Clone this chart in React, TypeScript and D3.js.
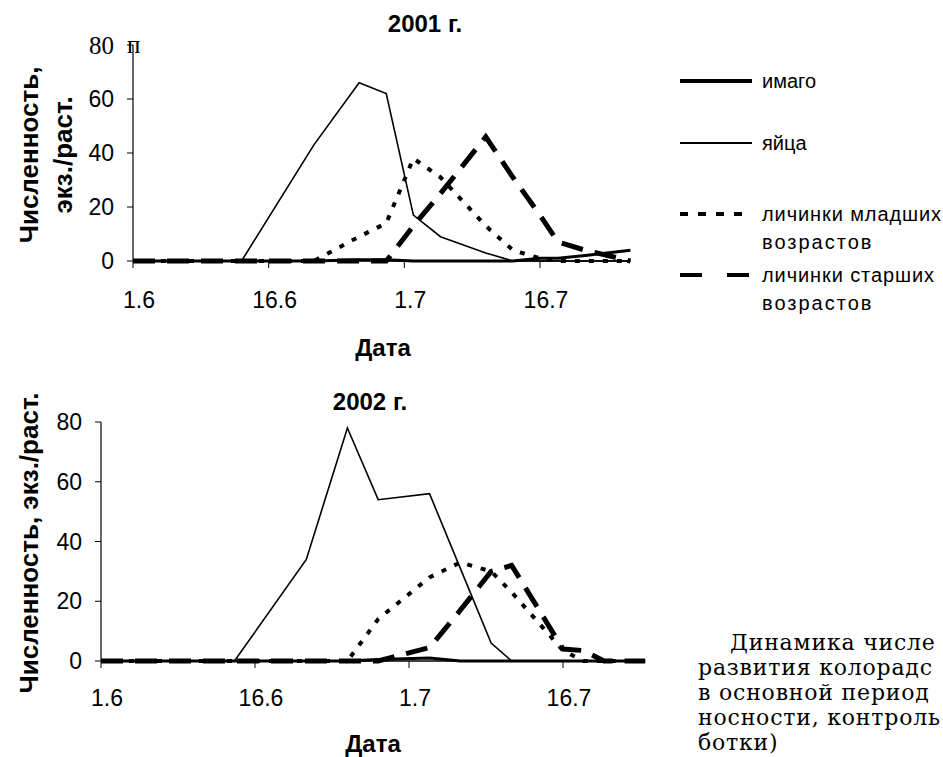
import React from 'react';
import * as d3 from 'd3';

// sampling dates (day.month) and counts, экз./раст.
const dates2001 = ['1.6', '13.6', '21.6', '26.6', '29.6', '2.7', '5.7', '10.7', '13.7', '16.7', '18.7', '21.7', '26.7'];
const imago2001 = [0, 0, 0, 0.5, 0.5, 0, 0, 0, 0, 1, 1, 2, 4];
const eggs2001 = [0, 0, 43, 66, 62, 17, 9, 3, 0, 0, 0, 0, 0];
const young2001 = [0, 0, 0, 9, 14, 38, 31, 13, 4, 1, 0, 0, 0];
const older2001 = [0, 0, 0, 0, 0, 13, 25, 46, 31, 17, 7, 4, 0];

const dates2002 = ['1.6', '14.6', '21.6', '25.6', '28.6', '3.7', '6.7', '9.7', '11.7', '16.7', '18.7', '20.7', '24.7'];
const imago2002 = [0, 0, 0, 0, 0.5, 1, 0, 0, 0, 0, 0, 0, 0];
const eggs2002 = [0, 0, 34, 78, 54, 56, 31, 6, 0, 0, 0, 0, 0];
const young2002 = [0, 0, 0, 0, 14, 28, 33, 30, 23, 3.5, 0, 0, 0];
const older2002 = [0, 0, 0, 0, 0, 4.5, 17, 30, 32, 4, 3.5, 0, 0];

const xTickLabels = ['1.6', '16.6', '1.7', '16.7'];
const yTickValues = [0, 20, 40, 60, 80];

const legendNames = ['имаго', 'яйца', 'личинки младших', 'личинки старших'];

const toDate = (s: string) => {
  const [d, m] = s.split('.').map(Number);
  return new Date(2001, m - 1, d);
};

const sans = 'Liberation Sans, Arial, sans-serif';

const styles = [
  { w: 3, dash: undefined },        // имаго
  { w: 1.6, dash: undefined },      // яйца
  { w: 4, dash: '5 9' },            // личинки младших
  { w: 5, dash: '22 12' },          // личинки старших
];

type ChartProps = {
  dates: string[];
  series: number[][];
  x0: number;
  x1: number; // position of the 16.7 tick
  yTop: number;
  yBottom: number;
  title: string;
  titleX: number;
  titleY: number;
  dataX: number;
  dataY: number;
  yTitle: string[];
  yTitleX: number[];
  yTitleY: number;
  tickLabelRight: number;
  xLabelY: number;
  serifTop?: boolean;
};

const Chart = (p: ChartProps) => {
  const x = d3.scaleTime().domain([toDate('1.6'), toDate('16.7')]).range([p.x0, p.x1]);
  const y = d3.scaleLinear().domain([0, 80]).range([p.yBottom, p.yTop]);
  const pts = p.dates.map(toDate);
  const line = d3.line<number>().x((_, i) => x(pts[i])).y(d => y(d));
  const xEnd = x(pts[pts.length - 1]);

  return (
    <g>
      <text x={p.titleX} y={p.titleY} textAnchor="middle" fontFamily={sans} fontWeight="bold" fontSize={24}>{p.title}</text>
      {/* axes */}
      <line x1={p.x0} x2={p.x0} y1={p.yTop} y2={p.yBottom} stroke="#000" strokeWidth={1.2} />
      <line x1={p.x0} x2={xEnd} y1={p.yBottom} y2={p.yBottom} stroke="#000" strokeWidth={1.5} />
      {yTickValues.map(v => (
        <g key={v}>
          <line x1={p.x0 - 6} x2={p.x0} y1={y(v)} y2={y(v)} stroke="#000" strokeWidth={1} />
          {p.serifTop && v === 80 ? (
            <text x={p.tickLabelRight} y={y(v)} dy="0.35em" textAnchor="end" fontFamily="Liberation Serif, serif" fontSize={25}>80</text>
          ) : (
            <text x={p.tickLabelRight} y={y(v)} dy="0.35em" textAnchor="end" fontFamily={sans} fontSize={23}>{v}</text>
          )}
        </g>
      ))}
      {p.serifTop && (
        <text x={p.x0 - 6} y={y(80)} dy="0.3em" fontFamily="Liberation Serif, serif" fontSize={25}>п</text>
      )}
      {xTickLabels.map(t => (
        <g key={t}>
          <line x1={x(toDate(t))} x2={x(toDate(t))} y1={p.yBottom} y2={p.yBottom + 7} stroke="#000" strokeWidth={1} />
          <text x={x(toDate(t)) + 6} y={p.xLabelY} textAnchor="middle" fontFamily={sans} fontSize={23}>{t}</text>
        </g>
      ))}
      <text x={p.dataX} y={p.dataY} textAnchor="middle" fontFamily={sans} fontWeight="bold" fontSize={24}>Дата</text>
      {p.yTitle.map((t, i) => (
        <text key={t} transform={`translate(${p.yTitleX[i]},${p.yTitleY}) rotate(-90)`} textAnchor="middle" dy="0.35em"
          fontFamily={sans} fontWeight="bold" fontSize={26}>{t}</text>
      ))}
      {/* series, drawn so the thin egg line stays on top */}
      {[3, 2, 0, 1].map(i => (
        <path key={i} d={line(p.series[i]) || ''} fill="none" stroke="#000" strokeWidth={styles[i].w}
          strokeDasharray={styles[i].dash} strokeLinejoin="miter" />
      ))}
    </g>
  );
};

const Legend = () => {
  const rows = [81, 143, 214, 275];
  return (
    <g fontFamily={sans} fontSize={20}>
      {legendNames.map((n, i) => (
        <g key={n}>
          <line x1={680} x2={752} y1={rows[i]} y2={rows[i]} stroke="#000" strokeWidth={i === 1 ? 2 : 4}
            strokeDasharray={i === 2 ? '8 10' : i === 3 ? '22 25' : undefined} />
          <text x={762} y={rows[i]} dy="0.35em" letterSpacing={i > 1 ? 0.9 : 0}>{n}</text>
          {i > 1 && <text x={762} y={rows[i] + 28} dy="0.35em" letterSpacing={2}>возрастов</text>}
        </g>
      ))}
    </g>
  );
};

const captionLines = [
  { x: 730, text: 'Динамика  числе' },
  { x: 698, text: 'развития колорадс' },
  { x: 698, text: 'в основной период' },
  { x: 698, text: 'носности, контроль' },
  { x: 698, text: 'ботки)' },
];

export default function App() {
  return (
    <svg width={943} height={757} style={{ position: 'absolute', left: 0, top: 0, background: '#fff' }}>
      <rect width={943} height={757} fill="#fff" />
      <Chart
        dates={dates2001}
        series={[imago2001, eggs2001, young2001, older2001]}
        x0={133} x1={540} yTop={45} yBottom={261}
        title="2001 г." titleX={425} titleY={32}
        dataX={383} dataY={356}
        yTitle={['Численность,', 'экз./раст.']} yTitleX={[29, 63]} yTitleY={155}
        tickLabelRight={114} xLabelY={308}
        serifTop
      />
      <Chart
        dates={dates2002}
        series={[imago2002, eggs2002, young2002, older2002]}
        x0={101} x1={563} yTop={422} yBottom={661}
        title="2002 г." titleX={370} titleY={410}
        dataX={373} dataY={752}
        yTitle={['Численность, экз./раст.']} yTitleX={[29]} yTitleY={543}
        tickLabelRight={82} xLabelY={706}
      />
      <Legend />
      <g fontFamily="DejaVu Serif, serif" fontSize={22}>
        {captionLines.map((l, i) => (
          <text key={i} x={l.x} y={650 + i * 25} letterSpacing={0.8}>{l.text}</text>
        ))}
      </g>
    </svg>
  );
}
